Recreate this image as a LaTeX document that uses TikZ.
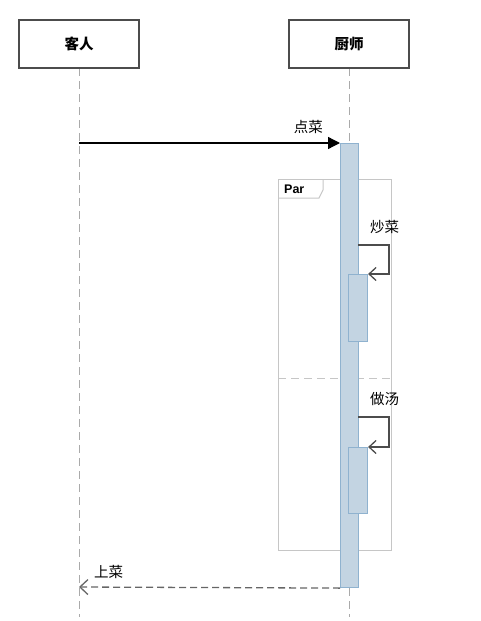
\documentclass[tikz,border=0pt]{standalone}
\usepackage{fontspec}
\newfontfamily\cjk{Noto Sans CJK SC}
\setmainfont{Liberation Sans}
\usetikzlibrary{arrows.meta}
\definecolor{actfill}{HTML}{C3D4E2}
\definecolor{actdraw}{HTML}{8FB2CF}
\definecolor{frame}{HTML}{C6C6C6}
\definecolor{life}{HTML}{AAAAAA}
\tikzset{
  x=1pt, y=-1pt,
  actor/.style={draw=black!70, line width=1.2pt, fill=white, minimum width=120pt, minimum height=48pt, font=\cjk\bfseries\fontsize{14.5}{15}\selectfont},
  lifeline/.style={draw=life, dashed, dash pattern=on 8pt off 5pt, line width=1pt},
  act/.style={draw=actdraw, fill=actfill, line width=1.1pt},
  msglabel/.style={font=\cjk\fontsize{14.5}{15}\selectfont, inner sep=1pt},
  selfmsg/.style={draw=black!70, line width=1.3pt, -{Straight Barb[length=7pt,width=13pt]}},
}
\begin{document}
\begin{tikzpicture}
\useasboundingbox (0,0) rectangle (481,621);
% lifelines
\coordinate (l1top) at (79,68);
\coordinate (l1bot) at (79,617);
\coordinate (l2top) at (349,68);
\coordinate (l2bot) at (349,617);
\draw[lifeline] (l1top) -- (l1bot);
\draw[lifeline] (l2top) -- (l2bot);
% actors
\node[actor] (guest) at (79,44) {客人};
\node[actor] (chef) at (349,44) {厨师};
% par frame
\draw[frame, line width=1pt] (278,179) rectangle (391,550);
\draw[frame, line width=1pt] (278,198) -- (319,198) -- (323,190) -- (323,179);
\node[font=\bfseries\fontsize{12.5}{13}\selectfont, anchor=west, inner sep=0pt] (partag) at (284,189) {Par};
\draw[frame, line width=1pt, dashed, dash pattern=on 8pt off 5pt] (278,378) -- (391,378);
% main activation
\node[act, minimum width=18pt, minimum height=444pt, inner sep=0pt, anchor=north west] (actmain) at (340,143) {};
% nested activations
\node[act, minimum width=19pt, minimum height=67pt, inner sep=0pt, anchor=north west] (act1) at (348,274) {};
\node[act, minimum width=19pt, minimum height=66pt, inner sep=0pt, anchor=north west] (act2) at (348,447) {};
% message 点菜
\draw[line width=1.3pt, -{Triangle[length=12pt,width=12pt]}] (l1top |- 0,143) coordinate (m1s) -- (actmain.north west);
\node[msglabel, anchor=south east] (lbl1) at (324,135) {点菜};
% self message 炒菜
\coordinate (s1a) at (358,245);
\coordinate (s1b) at (389,245);
\coordinate (s1c) at (389,274);
\draw[selfmsg] (s1a) -- (s1b) -- (s1c) -- (act1.north east);
\node[msglabel, anchor=south west] (lbl2) at (369,235) {炒菜};
% self message 做汤
\coordinate (s2a) at (358,417);
\coordinate (s2b) at (389,417);
\coordinate (s2c) at (389,447);
\draw[selfmsg] (s2a) -- (s2b) -- (s2c) -- (act2.north east);
\node[msglabel, anchor=south west] (lbl3) at (369,407) {做汤};
% reply 上菜
\coordinate (r1) at (79,587);
\draw[draw=black!60, line width=1.3pt, dashed, dash pattern=on 7pt off 4pt, -{Straight Barb[length=8pt,width=15pt]}] (actmain.south west) -- (r1);
\node[msglabel, anchor=south west] (lbl4) at (93,580) {上菜};
\end{tikzpicture}
\end{document}
